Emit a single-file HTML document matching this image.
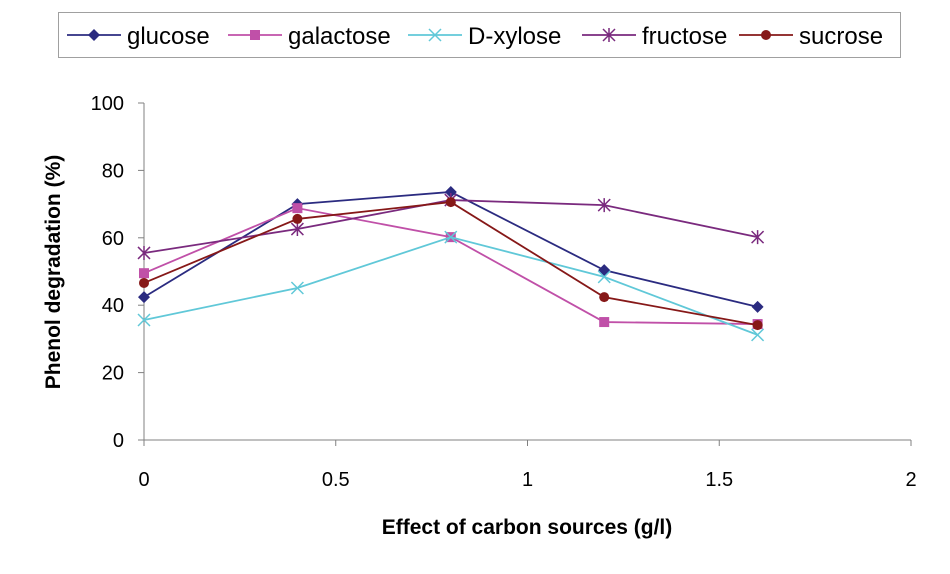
<!DOCTYPE html>
<html><head><meta charset="utf-8"><style>
body{margin:0;background:#fff;font-family:"Liberation Sans",Arial,sans-serif}
svg text{font-family:"Liberation Sans",Arial,sans-serif}
</style></head><body>
<svg id="chart" width="950" height="569" xmlns="http://www.w3.org/2000/svg"></svg>
<script>
const xValues=[0,0.4,0.8,1.2,1.6];
const glucose=[42.4,70,73.6,50.4,39.5];
const galactose=[49.5,68.8,60.2,35,34.4];
const xylose=[35.6,45.1,60.2,48.4,31.2];
const fructose=[55.5,62.6,71.2,69.7,60.2];
const sucrose=[46.6,65.6,70.6,42.4,34.1];
const xTicks=[0,0.5,1,1.5,2];
const xTickLabels=["0","0.5","1","1.5","2"];
const yTicks=[0,20,40,60,80,100];
const seriesNames=["glucose","galactose","D-xylose","fructose","sucrose"];

const NS="http://www.w3.org/2000/svg";
const svg=document.getElementById('chart');
const X=v=>144+v*(911-144)/2;
const Y=v=>440-v*(440-103)/100;
function mk(t,a,p){const e=document.createElementNS(NS,t);for(const k in a)e.setAttribute(k,a[k]);(p||svg).appendChild(e);return e;}

const ax=mk('line',{x1:144,y1:103,x2:144,y2:440,stroke:'#808080','stroke-width':1});


const bx=mk('line',{x1:144,y1:440,x2:911,y2:440,stroke:'#808080','stroke-width':1});


yTicks.forEach(v=>{
  mk('line',{x1:138,y1:Y(v),x2:144,y2:Y(v),stroke:'#808080'});
  const t=mk('text',{x:124,y:Y(v)+7,'text-anchor':'end','font-size':20,fill:'#000'});t.textContent=v;
  
  
});
xTicks.forEach((v,i)=>{
  mk('line',{x1:X(v),y1:440,x2:X(v),y2:446,stroke:'#808080'});
  const t=mk('text',{x:X(v),y:486,'text-anchor':'middle','font-size':20,fill:'#000'});t.textContent=xTickLabels[i];
  
  
});
const xt=mk('text',{x:527,y:534,'text-anchor':'middle','font-size':21,'font-weight':'bold'});xt.textContent='Effect of carbon sources (g/l)';


const yt=mk('text',{x:0,y:0,'text-anchor':'middle','font-size':21,'font-weight':'bold',transform:'translate(60,272) rotate(-90)'});yt.textContent='Phenol degradation (%)';



function marker(type,x,y,c,g){
  if(type==='diamond')mk('polygon',{points:`${x},${y-6} ${x+6},${y} ${x},${y+6} ${x-6},${y}`,fill:c},g);
  else if(type==='square')mk('rect',{x:x-5,y:y-5,width:10,height:10,fill:c},g);
  else if(type==='x'){mk('path',{d:`M${x-6},${y-6}L${x+6},${y+6}M${x-6},${y+6}L${x+6},${y-6}`,stroke:c,'stroke-width':1.5},g);}
  else if(type==='star'){mk('path',{d:`M${x-6},${y-6}L${x+6},${y+6}M${x-6},${y+6}L${x+6},${y-6}M${x},${y-7}L${x},${y+7}`,stroke:c,'stroke-width':1.5},g);}
  else mk('circle',{cx:x,cy:y,r:5,fill:c},g);
}
const series=[[glucose,'#2b2b80','diamond'],[galactose,'#c050a8','square'],[xylose,'#60c8d8','x'],[fructose,'#7a2a7e','star'],[sucrose,'#861818','circle']];
series.forEach(([d,c,m],i)=>{
  const g=mk('g',{});
  
  
  mk('polyline',{points:d.map((v,j)=>X(xValues[j])+','+Y(v)).join(' '),fill:'none',stroke:c,'stroke-width':1.8},g);
  d.forEach((v,j)=>marker(m,X(xValues[j]),Y(v),c,g));
});
const lg=mk('g',{});


mk('rect',{x:58.5,y:12.5,width:842,height:45,fill:'#fff',stroke:'#a0a0a0'},lg);
const lx=[67,228,408,582,739];
series.forEach(([d,c,m],i)=>{
  const e=mk('g',{},lg);
  
  
  mk('line',{x1:lx[i],y1:35,x2:lx[i]+54,y2:35,stroke:c,'stroke-width':1.8},e);
  marker(m,lx[i]+27,35,c,e);
  const t=mk('text',{x:lx[i]+60,y:44,'font-size':24,fill:'#000'},e);t.textContent=seriesNames[i];
});
</script>
</body></html>
